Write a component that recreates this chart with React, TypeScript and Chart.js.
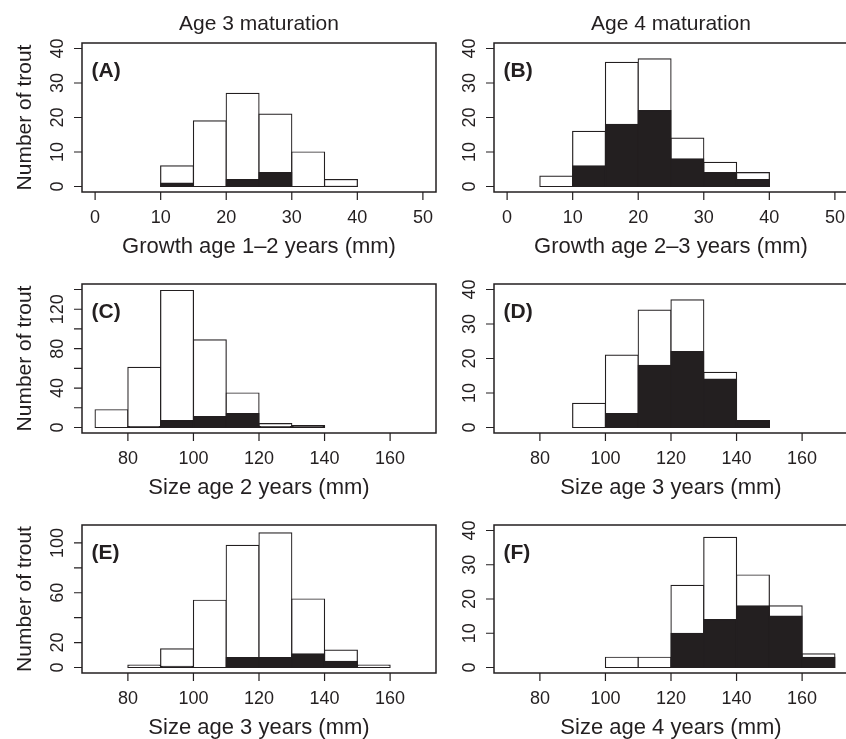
import React, { useEffect, useRef } from 'react';
import { Chart, registerables } from 'chart.js';

Chart.register(...registerables);

// ---------- data (counts) ----------
// (A) Growth age 1–2 years, age-3 maturation
const breaksA = [10, 15, 20, 25, 30, 35, 40];
const totalA = [6, 19, 27, 21, 10, 2];
const matureA = [1, 0, 2, 4, 0, 0];
// (B) Growth age 2–3 years, age-4 maturation
const breaksB = [5, 10, 15, 20, 25, 30, 35, 40];
const totalB = [3, 16, 36, 37, 14, 7, 4];
const matureB = [0, 6, 18, 22, 8, 4, 2];
// (C) Size age 2 years, age-3 maturation
const breaksC = [70, 80, 90, 100, 110, 120, 130, 140];
const totalC = [18, 61, 139, 89, 35, 4, 2];
const matureC = [0, 1, 7, 11, 14, 1, 1];
// (D) Size age 3 years, age-4 maturation
const breaksD = [90, 100, 110, 120, 130, 140, 150];
const totalD = [7, 21, 34, 37, 16, 2];
const matureD = [0, 4, 18, 22, 14, 2];
// (E) Size age 3 years, age-3 maturation
const breaksE = [80, 90, 100, 110, 120, 130, 140, 150, 160];
const totalE = [2, 15, 54, 98, 108, 55, 14, 2];
const matureE = [0, 1, 0, 8, 8, 11, 5, 0];
// (F) Size age 4 years, age-4 maturation
const breaksF = [100, 110, 120, 130, 140, 150, 160, 170];
const totalF = [3, 3, 24, 38, 27, 18, 4];
const matureF = [0, 0, 10, 14, 18, 15, 3];

// tick values / labels
const growthTicks = [0, 10, 20, 30, 40, 50];
const sizeTicks = [80, 100, 120, 140, 160];
const countTicks40 = [0, 10, 20, 30, 40];
const countTicksC = [0, 20, 40, 60, 80, 100, 120, 140];
const countLabelsC = [0, 40, 80, 120];
const countTicksE = [0, 20, 40, 60, 80, 100];
const countLabelsE = [0, 20, 60, 100];

const growthLim = [0, 50];
const sizeLim = [70, 170];

// ---------- layout & style ----------
const W = 880;
const H = 739;
const INK = '#231f20';
const FONT = '"Liberation Sans", Arial, Helvetica, sans-serif';
const colLeft = [82, 494];
const boxWidth = 354;
const rowTop = [43, 284, 525];
const rowBottom = [192, 433, 673];

type Panel = {
  tag: string;
  col: number;
  row: number;
  breaks: number[];
  total: number[];
  mature: number[];
  xlim: number[];
  ylim: number[];
  xTicks: number[];
  yTicks: number[];
  yLabels: number[];
  xTitle: string;
  colTitle?: string;
};

const panels: Panel[] = [
  { tag: '(A)', col: 0, row: 0, breaks: breaksA, total: totalA, mature: matureA, xlim: growthLim, ylim: [0, 40], xTicks: growthTicks, yTicks: countTicks40, yLabels: countTicks40, xTitle: 'Growth age 1–2 years (mm)', colTitle: 'Age 3 maturation' },
  { tag: '(B)', col: 1, row: 0, breaks: breaksB, total: totalB, mature: matureB, xlim: growthLim, ylim: [0, 40], xTicks: growthTicks, yTicks: countTicks40, yLabels: countTicks40, xTitle: 'Growth age 2–3 years (mm)', colTitle: 'Age 4 maturation' },
  { tag: '(C)', col: 0, row: 1, breaks: breaksC, total: totalC, mature: matureC, xlim: sizeLim, ylim: [0, 140], xTicks: sizeTicks, yTicks: countTicksC, yLabels: countLabelsC, xTitle: 'Size age 2 years (mm)' },
  { tag: '(D)', col: 1, row: 1, breaks: breaksD, total: totalD, mature: matureD, xlim: sizeLim, ylim: [0, 40], xTicks: sizeTicks, yTicks: countTicks40, yLabels: countTicks40, xTitle: 'Size age 3 years (mm)' },
  { tag: '(E)', col: 0, row: 2, breaks: breaksE, total: totalE, mature: matureE, xlim: sizeLim, ylim: [0, 110], xTicks: sizeTicks, yTicks: countTicksE, yLabels: countLabelsE, xTitle: 'Size age 3 years (mm)' },
  { tag: '(F)', col: 1, row: 2, breaks: breaksF, total: totalF, mature: matureF, xlim: sizeLim, ylim: [0, 40], xTicks: sizeTicks, yTicks: countTicks40, yLabels: countTicks40, xTitle: 'Size age 4 years (mm)' },
];

const ext = (lim: number[]) => {
  const pad = (lim[1] - lim[0]) * 0.04;
  return [lim[0] - pad, lim[1] + pad];
};

const toPoints = (breaks: number[], counts: number[]) =>
  counts.map((c, i) => ({ x: (breaks[i] + breaks[i + 1]) / 2, y: c }));

const capOf = (size: number) => size * 0.716;

function makeAxesPlugin(p: Panel) {
  return {
    id: 'rAxes',
    afterDraw(chart: any) {
      const ctx = chart.ctx as CanvasRenderingContext2D;
      const { left, right, top, bottom } = chart.chartArea;
      const xs = chart.scales.x;
      const ys = chart.scales.y;
      ctx.save();
      ctx.strokeStyle = INK;
      ctx.fillStyle = INK;
      // box
      ctx.lineWidth = 1.5;
      ctx.strokeRect(left, top, right - left, bottom - top);
      // ticks
      ctx.lineWidth = 1.2;
      ctx.beginPath();
      for (const v of p.xTicks) {
        const x = xs.getPixelForValue(v);
        ctx.moveTo(x, bottom);
        ctx.lineTo(x, bottom + 8);
      }
      for (const v of p.yTicks) {
        const y = ys.getPixelForValue(v);
        ctx.moveTo(left, y);
        ctx.lineTo(left - 8, y);
      }
      ctx.stroke();
      // tick labels
      const tf = 18;
      ctx.font = `${tf}px ${FONT}`;
      ctx.textAlign = 'center';
      ctx.textBaseline = 'alphabetic';
      for (const v of p.xTicks) {
        ctx.fillText(String(v), xs.getPixelForValue(v), bottom + 25 + capOf(tf) / 2);
      }
      for (const v of p.yLabels) {
        ctx.save();
        ctx.translate(left - 25.5, ys.getPixelForValue(v));
        ctx.rotate(-Math.PI / 2);
        ctx.fillText(String(v), 0, capOf(tf) / 2);
        ctx.restore();
      }
      // x axis title
      const af = 22;
      ctx.font = `${af}px ${FONT}`;
      ctx.fillText(p.xTitle, (left + right) / 2, bottom + 53.5 + capOf(af) / 2);
      // y axis title (left column only)
      if (p.col === 0) {
        const yf = 21;
        ctx.font = `${yf}px ${FONT}`;
        ctx.save();
        ctx.translate(left - 59, (top + bottom) / 2);
        ctx.rotate(-Math.PI / 2);
        ctx.fillText('Number of trout', 0, capOf(yf) / 2);
        ctx.restore();
      }
      // column title
      if (p.colTitle) {
        const cf = 21;
        ctx.font = `${cf}px ${FONT}`;
        ctx.fillText(p.colTitle, (left + right) / 2, 22 + capOf(cf) / 2);
      }
      // panel tag
      const pf = 21;
      ctx.font = `bold ${pf}px ${FONT}`;
      ctx.textAlign = 'left';
      ctx.fillText(p.tag, left + 9.5, top + 26.5 + capOf(pf) / 2);
      ctx.restore();
    },
  };
}

function HistPanel({ p }: { p: Panel }) {
  const ref = useRef<HTMLCanvasElement | null>(null);
  useEffect(() => {
    const canvas = ref.current;
    if (!canvas) return;
    const left = colLeft[p.col];
    const right = left + boxWidth;
    const top = rowTop[p.row];
    const bottom = rowBottom[p.row];
    const xr = ext(p.xlim);
    const yr = ext(p.ylim);
    const binWidth = p.breaks[1] - p.breaks[0];
    const common = {
      borderColor: INK,
      borderWidth: 1.2,
      borderSkipped: false,
      grouped: false,
      inflateAmount: 0.6,
      barPercentage: 1,
      categoryPercentage: 1,
    };
    const chart = new Chart(canvas, {
      type: 'bar',
      data: {
        datasets: [
          { ...common, label: 'mature', data: toPoints(p.breaks, p.mature), backgroundColor: INK } as any,
          { ...common, label: 'total', data: toPoints(p.breaks, p.total), backgroundColor: '#ffffff' } as any,
        ],
      },
      options: {
        responsive: false,
        animation: false,
        events: [],
        layout: { padding: { left, right: W - right, top, bottom: H - bottom } },
        plugins: { legend: { display: false }, tooltip: { enabled: false } },
        scales: {
          x: {
            type: 'linear',
            display: false,
            offset: false,
            min: xr[0],
            max: xr[1],
            ticks: { stepSize: binWidth, includeBounds: false },
          },
          y: { type: 'linear', display: false, min: yr[0], max: yr[1] },
        },
      } as any,
      plugins: [makeAxesPlugin(p)],
    });
    return () => chart.destroy();
  }, [p]);
  return (
    <canvas
      ref={ref}
      width={W}
      height={H}
      style={{ position: 'absolute', left: 0, top: 0, width: W, height: H }}
    />
  );
}

export default function App() {
  return (
    <div
      style={{
        position: 'absolute',
        left: 0,
        top: 0,
        width: 846,
        height: 739,
        overflow: 'hidden',
        background: '#ffffff',
      }}
    >
      {panels.map((p) => (
        <HistPanel key={p.tag} p={p} />
      ))}
    </div>
  );
}
